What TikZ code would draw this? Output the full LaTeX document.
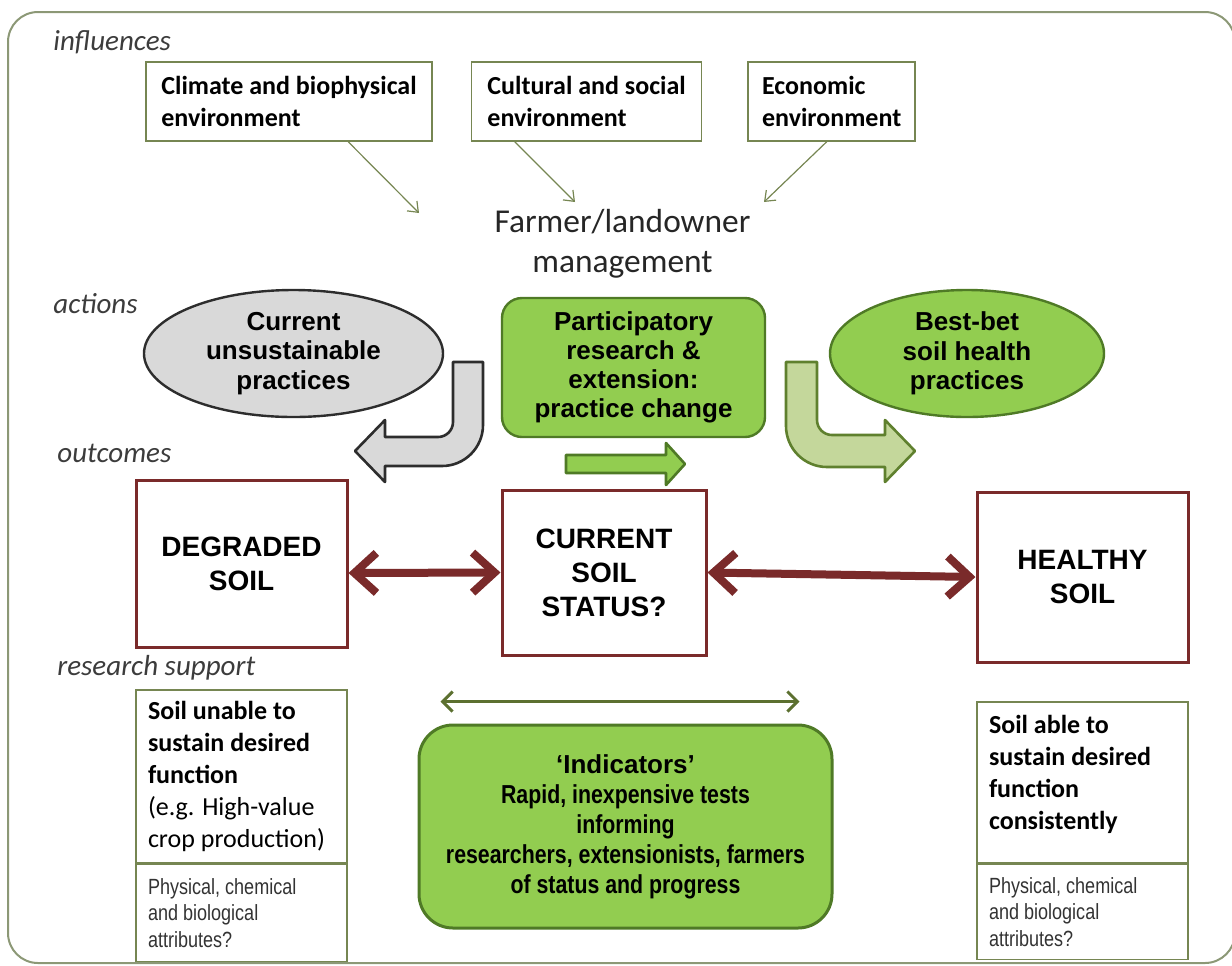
\documentclass[tikz,border=0pt]{standalone}
\usepackage{fontspec}
\setmainfont{Carlito}
\newfontfamily\arialfont{Liberation Sans}
\newfontfamily\narrowfont{Liberation Sans}[FakeStretch=0.82]
\usetikzlibrary{shapes.geometric, arrows.meta, positioning, calc}

\definecolor{frameol}{RGB}{140,152,118}
\definecolor{boxol}{RGB}{118,134,82}
\definecolor{leafgreen}{RGB}{146,205,80}
\definecolor{leafdark}{RGB}{79,122,38}
\definecolor{palegreen}{RGB}{196,215,155}
\definecolor{paledark}{RGB}{95,128,46}
\definecolor{soilred}{RGB}{122,42,42}
\definecolor{ashgray}{RGB}{217,217,217}
\definecolor{inkgray}{RGB}{45,45,45}
\definecolor{arrowol}{RGB}{92,112,48}
\definecolor{labelgray}{RGB}{60,60,60}

\begin{document}
\begin{tikzpicture}[x=0.5pt, y=-0.5pt,
    lbl/.style={anchor=base west, inner sep=0pt, text=labelgray, font=\itshape\fontsize{14.5}{16}\selectfont},
    inbox/.style={draw=boxol, line width=0.8pt, minimum height=39.5pt, inner xsep=0pt, align=left, font=\bfseries\fontsize{13}{16}\selectfont},
    infl/.style={draw=boxol, line width=0.6pt, -{Straight Barb[length=4.5pt,width=7pt]}},
    blob/.style={ellipse, line width=1.2pt, inner sep=0pt, minimum height=63.5pt, align=center, font=\arialfont\bfseries\fontsize{13}{14.75}\selectfont},
    soilbox/.style={draw=soilred, line width=1.5pt, align=center, font=\arialfont\bfseries\fontsize{14}{17}\selectfont},
    link/.style={draw=soilred, line width=4pt, {Straight Barb[length=11pt,width=20pt]}-{Straight Barb[length=11pt,width=20pt]}},
    supbox/.style={draw=boxol, line width=0.8pt, text width=93.5pt, inner xsep=6pt, inner ysep=0pt, align=flush left},
    attr/.style={supbox, text=black!80, font=\narrowfont\fontsize{11}{13.25}\selectfont},
    bothway/.style={draw=arrowol, line width=1.5pt, {Straight Barb[length=5pt,width=10pt]}-{Straight Barb[length=5pt,width=10pt]}},
    block/.style={line width=1.3pt, line join=round}]
  \useasboundingbox (0,0) rectangle (1232,965);
  \draw[frameol, line width=1pt, rounded corners=15pt] (8,12) rectangle (1235,963);

  % row labels
  \node[lbl] (linf) at (53,50) {influences};
  \node[lbl] (lact) at (53,313) {actions};
  \node[lbl] (lout) at (57,462) {outcomes};
  \node[lbl] (lres) at (57,675) {research support};

  % influences
  \node[inbox, minimum width=143pt] (clim) at (289,101.5) {Climate and biophysical\\ environment};
  \node[inbox, minimum width=115pt, right=19pt of clim] (cult) {Cultural and social\\ environment};
  \node[inbox, minimum width=83.5pt, right=22.5pt of cult] (econ) {Economic\\ environment};
  \node[align=center, text=black!85, font=\fontsize{16.7}{20}\selectfont] (farm) at (622.5,244) {Farmer/landowner\\ management};
  \coordinate (fa) at (419,213);
  \coordinate (fb) at (575,202);
  \coordinate (fc) at (764,202);
  \draw[infl] ($(clim.south west)!0.706!(clim.south east)$) -- (fa);
  \draw[infl] ($(cult.south west)!0.19!(cult.south east)$) -- (fb);
  \draw[infl] ($(econ.south west)!0.47!(econ.south east)$) -- (fc);

  % actions
  \node[blob, draw=inkgray, fill=ashgray, minimum width=149.5pt] (bad) at (293.5,353.5) {Current\\ unsustainable\\ practices};
  \node[draw=leafdark, fill=leafgreen, line width=1.2pt, rounded corners=10pt, minimum width=131.5pt, minimum height=69.5pt, align=center, font=\arialfont\bfseries\fontsize{13}{14.5}\selectfont] (pract) at (633.5,367.5) {Participatory\\ research \&\\ extension:\\ practice change};
  \node[blob, draw=leafdark, fill=leafgreen, minimum width=137pt] (best) at (967,353.5) {Best-bet\\ soil health\\ practices};

  \draw[block, draw=inkgray, fill=ashgray] (453,362) -- (483,362) -- (483,425)
    arc[start angle=0, end angle=-90, radius=20.5pt] -- (385,466) -- (385,482) -- (355,451)
    -- (385,420) -- (385,437) -- (438,437) arc[start angle=-90, end angle=0, radius=7.5pt] -- cycle;
  \draw[block, draw=leafdark, fill=leafgreen] (566,455) -- (666,455) -- (666,443) -- (685,464)
    -- (666,485) -- (666,473) -- (566,473) -- cycle;
  \draw[block, draw=paledark, fill=palegreen] (817,362) -- (786,362) -- (786,426)
    arc[start angle=180, end angle=270, radius=20.5pt] -- (885,467) -- (885,482) -- (915,451)
    -- (885,420) -- (885,435) -- (832,435) arc[start angle=270, end angle=180, radius=7.5pt] -- cycle;

  % outcomes
  \node[soilbox, minimum width=105.5pt, minimum height=83.5pt] (deg) at (241.5,563.5) {DEGRADED\\ SOIL};
  \node[soilbox, minimum width=102pt, minimum height=82.5pt] (cur) at (604,572.5) {CURRENT\\ SOIL\\ STATUS?};
  \node[soilbox, minimum width=105.5pt, minimum height=85pt] (heal) at (1082.5,577) {HEALTHY\\ SOIL};
  \draw[link] ([yshift=-4.75pt]deg.east) -- (cur.west);
  \draw[link] (cur.east) -- (heal.west);

  % research support
  \node[supbox, minimum height=86.5pt, font=\fontsize{13}{16}\selectfont] (unable) at (241.5,776.5)
    {\textbf{Soil unable to}\\ \textbf{sustain desired}\\ \textbf{function}\\ (e.g. High-value\\ crop production)};
  \node[attr, minimum height=48.5pt, below=0pt of unable] (attrA) {Physical, chemical\\ and biological\\ attributes?};
  \node[supbox, minimum height=80.5pt, font=\fontsize{13}{16}\selectfont] (able) at (1082.5,782.5)
    {\textbf{Soil able to}\\ \textbf{sustain desired}\\ \textbf{function}\\ \textbf{consistently}\\[-6pt] \mbox{}};
  \node[attr, minimum height=47.5pt, below=0pt of able] (attrB) {Physical, chemical\\ and biological\\ attributes?};

  \node[draw=leafdark, fill=leafgreen, line width=1.5pt, rounded corners=17pt, minimum width=206.5pt, minimum height=101.5pt, align=center, font=\narrowfont\bfseries\fontsize{13}{15}\selectfont] (ind) at (625.5,826.5)
    {{\arialfont ‘Indicators’}\\ Rapid, inexpensive tests\\ informing\\ researchers, extensionists, farmers\\ of status and progress};
  \draw[bothway] ([xshift=11.5pt,yshift=11pt]ind.north west) -- ([xshift=-17pt,yshift=11pt]ind.north east);
\end{tikzpicture}
\end{document}
